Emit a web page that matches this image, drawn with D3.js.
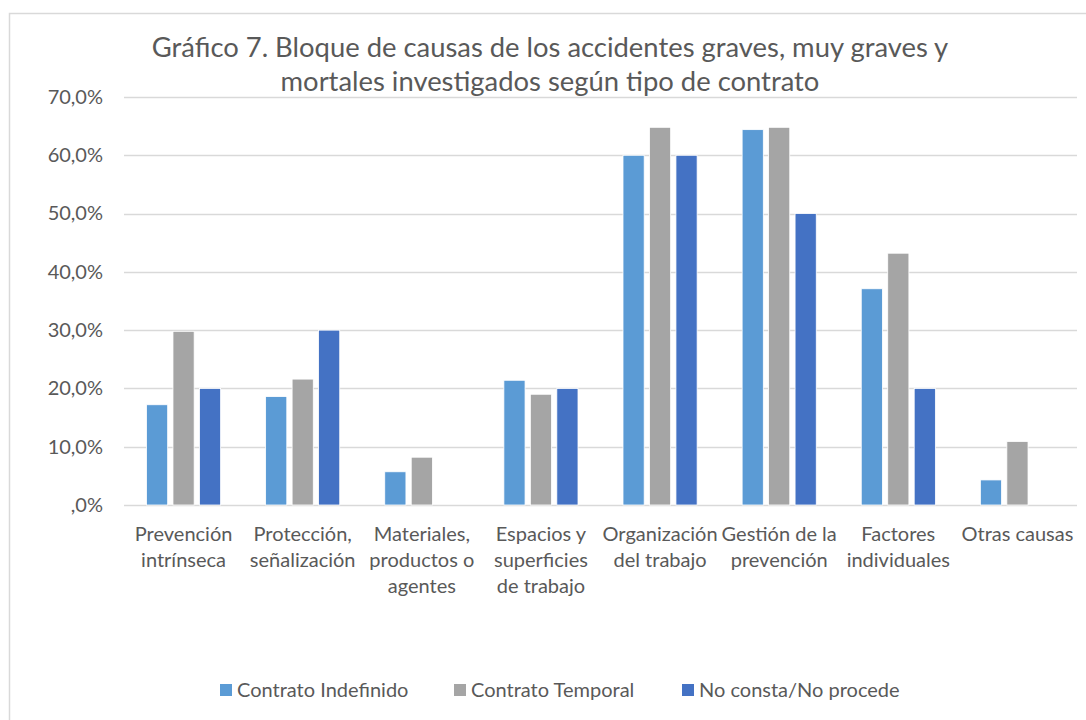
<!DOCTYPE html>
<html>
<head>
<meta charset="utf-8">
<script src="https://cdn.jsdelivr.net/npm/d3@7"></script>
<style>
  html, body { margin: 0; padding: 0; background: #fff; }
  svg { display: block; }
  text { font-family: Lato, "Open Sans", sans-serif; fill: #595959; }
</style>
</head>
<body>
<svg id="chart" width="1086" height="720"></svg>
<script>
const titleLines = [
  "Gráfico 7. Bloque de causas de los accidentes graves, muy graves y",
  "mortales investigados según tipo de contrato"
];
const categories = [
  "Prevención\nintrínseca",
  "Protección,\nseñalización",
  "Materiales,\nproductos o\nagentes",
  "Espacios y\nsuperficies\nde trabajo",
  "Organización\ndel trabajo",
  "Gestión de la\nprevención",
  "Factores\nindividuales",
  "Otras causas"
];
const seriesNames = ["Contrato Indefinido", "Contrato Temporal", "No consta/No procede"];
const contratoIndefinido = [17.2, 18.6, 5.7, 21.4, 60.0, 64.4, 37.1, 4.3];
const contratoTemporal   = [29.8, 21.6, 8.2, 19.0, 64.8, 64.8, 43.2, 10.9];
const noConsta           = [20.0, 30.0, 0.0, 20.0, 60.0, 50.0, 20.0, 0.0];
const yTicks = [0, 10, 20, 30, 40, 50, 60, 70];
const colors = ["#5B9BD5", "#A5A5A5", "#4472C4"];

const seriesValues = [contratoIndefinido, contratoTemporal, noConsta];
const svg = d3.select("#chart");

// chart border
svg.append("rect")
  .attr("x", 9.5).attr("y", 13.5)
  .attr("width", 1100).attr("height", 720)
  .attr("fill", "none").attr("stroke", "#D9D9D9").attr("stroke-width", 1.5);

const plot = { left: 124, right: 1077, top: 97, bottom: 505 };

const x0 = d3.scaleBand().domain(categories)
  .range([plot.left, plot.right]).paddingInner(1/3).paddingOuter(1/6);
const x1 = d3.scaleBand().domain(d3.range(seriesNames.length))
  .range([0, x0.bandwidth()]).paddingInner(0.2).paddingOuter(0.1);
const y = d3.scaleLinear().domain([0, 70]).range([plot.bottom, plot.top]);

// gridlines
svg.append("g").selectAll("line").data(yTicks).join("line")
  .attr("x1", plot.left).attr("x2", plot.right)
  .attr("y1", d => Math.round(y(d)) + 0.5).attr("y2", d => Math.round(y(d)) + 0.5)
  .attr("stroke", "#D9D9D9").attr("stroke-width", 1.3);

// y axis labels
const yAxis = d3.axisLeft(y).tickValues(yTicks).tickSize(0).tickPadding(0)
  .tickFormat(d => (d === 0 ? "" : d3.format(".0f")(d)) + ",0%");
const gy = svg.append("g").attr("transform", `translate(${plot.left - 21},0)`).call(yAxis);
gy.select(".domain").remove();
gy.selectAll("text").attr("font-size", 20).attr("fill", "#595959")
  .style("font-family", "Lato, 'Open Sans', sans-serif");

// bars
const groups = svg.append("g").selectAll("g").data(categories).join("g")
  .attr("transform", d => `translate(${x0(d)},0)`);
groups.selectAll("rect")
  .data((d, i) => seriesValues.map((vals, s) => ({ s, v: vals[i] })))
  .join("rect")
  .filter(d => d.v > 0)
  .attr("x", d => x1(d.s))
  .attr("width", x1.bandwidth())
  .attr("y", d => y(d.v))
  .attr("height", d => y(0) - y(d.v))
  .attr("fill", d => colors[d.s])
  .attr("stroke", "#fff").attr("stroke-width", 0.8);

// x axis labels
const xAxis = d3.axisBottom(x0).tickSize(0).tickPadding(0).tickFormat("");
const gx = svg.append("g").attr("transform", `translate(0,${plot.bottom})`).call(xAxis);
gx.select(".domain").remove();
gx.selectAll(".tick").each(function(d) {
  const lines = d.split("\n");
  const t = d3.select(this).append("text")
    .attr("text-anchor", "middle").attr("font-size", 20).attr("fill", "#595959");
  lines.forEach((ln, i) => {
    t.append("tspan").attr("x", 0).attr("y", 36 + i * 26).text(ln);
  });
});

// title
svg.append("text").attr("text-anchor", "middle").attr("font-size", 27.4)
  .selectAll("tspan").data(titleLines).join("tspan")
  .attr("x", 550).attr("y", (d, i) => 57 + i * 34).text(d => d);

// legend
const legendX = [220, 454, 682];
const leg = svg.append("g").selectAll("g").data(seriesNames).join("g")
  .attr("transform", (d, i) => `translate(${legendX[i]},690)`);
leg.append("rect").attr("x", 0).attr("y", -6).attr("width", 12).attr("height", 12)
  .attr("fill", (d, i) => colors[i]);
leg.append("text").attr("x", 17).attr("y", 7).attr("font-size", 20).text(d => d);
</script>
</body>
</html>
